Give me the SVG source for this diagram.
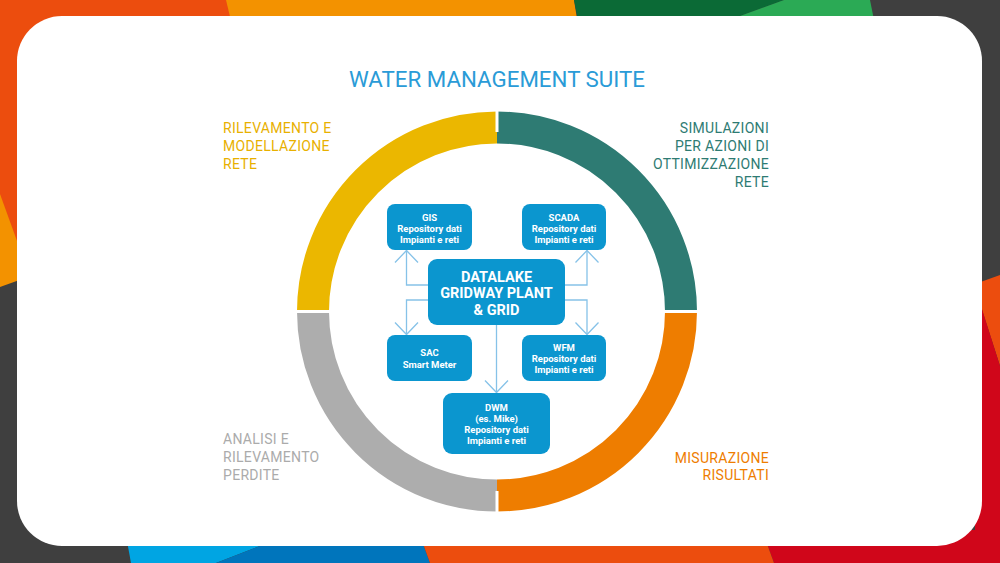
<svg xmlns="http://www.w3.org/2000/svg" width="1000" height="563" viewBox="0 0 1000 563">
<style>
.box{fill:#0B96CF}
.bt{font-family:Roboto,"Liberation Sans",sans-serif;font-weight:700;fill:#ffffff;text-anchor:middle;font-size:9.5px}
.big{font-size:14.5px}
.lab{font-family:Roboto,"Liberation Sans",sans-serif;font-weight:400;font-size:14px;letter-spacing:0.3px}
.conn{fill:none;stroke:#86C2E8;stroke-width:1.3}
</style>
<defs>
<marker id="chev" markerUnits="userSpaceOnUse" viewBox="-14 -14 16 28" markerWidth="16" markerHeight="28" refX="0" refY="0" orient="auto">
<path d="M-12,-11.5 L0,0 L-12,11.5" fill="none" stroke="#86C2E8" stroke-width="1.3"/>
</marker>
</defs>
<g id="background">
<rect x="0" y="0" width="1000" height="563" fill="#3F3F3F"/>
<polygon points="0,0 574,0 578,25 25,278 0,287" fill="#F39200"/>
<polygon points="0,0 226,0 232,25 25,263 0,194" fill="#EC4D0E"/>
<polygon points="574,0 784,0 729,20 578,20" fill="#0B6A36"/>
<polygon points="784,0 870,0 874,20 729,20" fill="#2BAA55"/>
<polygon points="975,284 1000,275 1000,366 975,288" fill="#EC4D0E"/>
<polygon points="975,287 1000,366 1000,563 774,563 762,530 975,530" fill="#D0061A"/>
<polygon points="125,530 301,530 216,563 131,563" fill="#00A5E3"/>
<polygon points="301,530 418,530 430,563 216,563" fill="#0075BC"/>
<polygon points="418,530 762,530 774,563 430,563" fill="#EC4D0E"/>
<rect x="17" y="16" width="965" height="530" rx="45" ry="45" fill="#ffffff"/>
</g>
<text id="title" x="497" y="87" font-family="Roboto,'Liberation Sans',sans-serif" font-weight="400" font-size="22" fill="#2A9BD7" text-anchor="middle" textLength="296" lengthAdjust="spacingAndGlyphs">WATER MANAGEMENT SUITE</text>
<g id="ring" fill="none" stroke-width="32">
<path d="M313 311.5 A184 184 0 0 1 497 127.5" stroke="#EBB700"/>
<path d="M497 127.5 A184 184 0 0 1 681 311.5" stroke="#2E7B73"/>
<path d="M681 311.5 A184 184 0 0 1 497 495.5" stroke="#EE7D00"/>
<path d="M497 495.5 A184 184 0 0 1 313 311.5" stroke="#ADADAD"/>
<path d="M497 105 V132 M497 491 V518 M290 311.5 H335 M659 311.5 H704" stroke="#ffffff" stroke-width="3"/>
</g>
<g id="label-rilevamento" class="lab" fill="#E8B000">
<text x="223" y="133">RILEVAMENTO E</text>
<text x="223" y="151">MODELLAZIONE</text>
<text x="223" y="169">RETE</text>
</g>
<g id="label-simulazioni" class="lab" fill="#2E7B73" text-anchor="end">
<text x="769" y="133">SIMULAZIONI</text>
<text x="769" y="151">PER AZIONI DI</text>
<text x="769" y="169">OTTIMIZZAZIONE</text>
<text x="769" y="187">RETE</text>
</g>
<g id="label-analisi" class="lab" fill="#ABABAB">
<text x="223" y="444">ANALISI E</text>
<text x="223" y="462">RILEVAMENTO</text>
<text x="223" y="480">PERDITE</text>
</g>
<g id="label-misurazione" class="lab" fill="#EE7D00" text-anchor="end">
<text x="769" y="463">MISURAZIONE</text>
<text x="769" y="480">RISULTATI</text>
</g>
<g id="connectors">
<path class="conn" d="M428 285 H406.5 V250.5" marker-end="url(#chev)"/>
<path class="conn" d="M565 285 H587 V250.5" marker-end="url(#chev)"/>
<path class="conn" d="M428 300 H406.5 V334.5" marker-end="url(#chev)"/>
<path class="conn" d="M565 300 H587 V334.5" marker-end="url(#chev)"/>
<path class="conn" d="M496.5 325 V392.5" marker-end="url(#chev)"/>
</g>
<g id="node-gis">
<rect class="box" x="387" y="204" width="85" height="46" rx="8"/>
<text class="bt" x="429.5" y="220.5">GIS</text>
<text class="bt" x="429.5" y="231.5">Repository dati</text>
<text class="bt" x="429.5" y="242.5">Impianti e reti</text>
</g>
<g id="node-scada">
<rect class="box" x="522" y="204" width="84" height="46" rx="8"/>
<text class="bt" x="564" y="220.5">SCADA</text>
<text class="bt" x="564" y="231.5">Repository dati</text>
<text class="bt" x="564" y="242.5">Impianti e reti</text>
</g>
<g id="node-datalake">
<rect class="box" x="428" y="259" width="137" height="66" rx="9"/>
<text class="bt big" x="496.5" y="281.5">DATALAKE</text>
<text class="bt big" x="496.5" y="298">GRIDWAY PLANT</text>
<text class="bt big" x="496.5" y="314.5">&amp; GRID</text>
</g>
<g id="node-sac">
<rect class="box" x="387" y="335" width="85" height="46" rx="8"/>
<text class="bt" x="429.5" y="356">SAC</text>
<text class="bt" x="429.5" y="367.5">Smart Meter</text>
</g>
<g id="node-wfm">
<rect class="box" x="522" y="335" width="84" height="46" rx="8"/>
<text class="bt" x="564" y="350.5">WFM</text>
<text class="bt" x="564" y="361.8">Repository dati</text>
<text class="bt" x="564" y="372.8">Impianti e reti</text>
</g>
<g id="node-dwm">
<rect class="box" x="443" y="393" width="107" height="61" rx="9"/>
<text class="bt" x="496.5" y="410.5">DWM</text>
<text class="bt" x="496.5" y="421.8">(es. Mike)</text>
<text class="bt" x="496.5" y="433.2">Repository dati</text>
<text class="bt" x="496.5" y="443.8">Impianti e reti</text>
</g>
</svg>
